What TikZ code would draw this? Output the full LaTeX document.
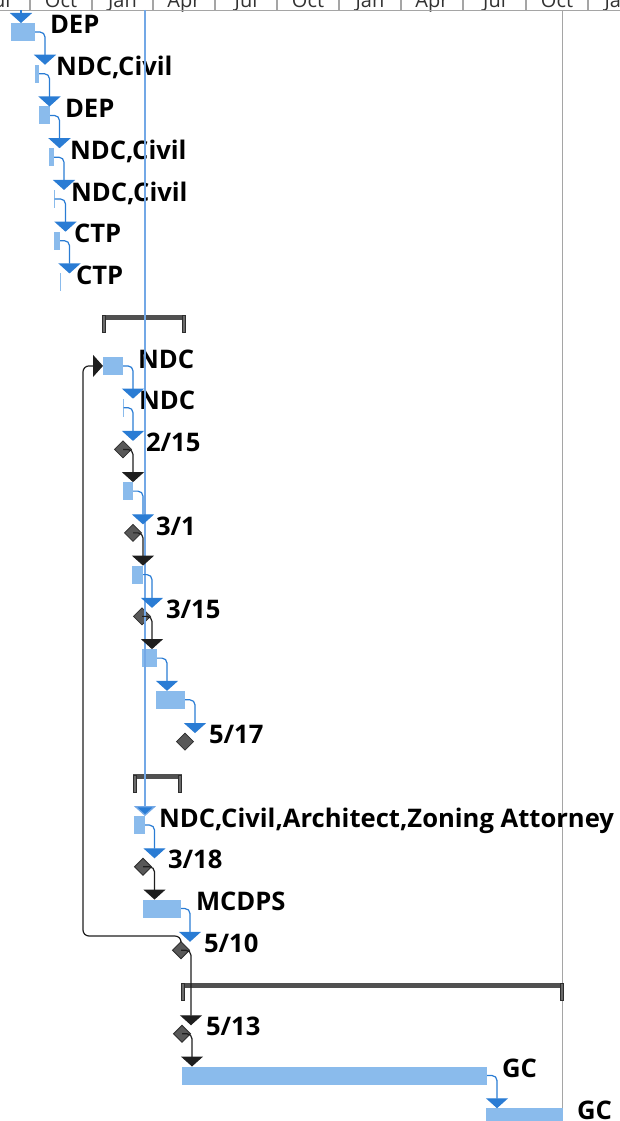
\documentclass[tikz,border=0pt]{standalone}
\usepackage{fontspec}
\setmainfont{Open Sans}
\usetikzlibrary{arrows.meta,shapes.geometric}
\definecolor{barfill}{RGB}{138,187,236}
\definecolor{lnk}{RGB}{42,124,212}
\definecolor{vline}{RGB}{115,168,230}
\definecolor{msfill}{RGB}{88,88,88}
\definecolor{msdraw}{RGB}{45,45,45}
\definecolor{sumc}{RGB}{80,80,80}
\definecolor{gridc}{RGB}{165,165,165}
\definecolor{klnk}{RGB}{30,30,30}
\definecolor{hdrtxt}{RGB}{50,50,50}
\newcommand\tbar[4]{\node[bar, minimum width={(#3-(#2))*1pt}, minimum height=18pt] (#1) at ({(#2+#3)/2},#4) {};}
\newcommand\thinbar[3]{\node[bar, minimum width=1.6pt, minimum height=18pt] (#1) at (#2,#3) {};}
\newcommand\msdia[3]{\node[ms] (#1) at (#2,#3) {};}
\newcommand\sumbar[4]{%
  \node[sumb, minimum width={(#3-(#2))*1pt}, minimum height=5pt] (#1) at ({(#2+#3)/2},{#4-6.5}) {};
  \node[sumcap] (#1l) at ({#2+2},#4) {};
  \node[sumcap] (#1r) at ({#3-2},#4) {};}
\begin{document}
\begin{tikzpicture}[x=1pt,y=-1pt,
  bar/.style={rectangle, fill=barfill, draw=none, inner sep=0pt, outer sep=0pt},
  ms/.style={diamond, fill=msfill, draw=msdraw, line width=0.8pt, minimum size=17pt, inner sep=0pt, outer sep=0pt},
  sumb/.style={rectangle, fill=sumc, inner sep=0pt, outer sep=0pt},
  sumcap/.style={rectangle, fill=sumc!85, draw=msdraw, line width=0.6pt, minimum width=3.5pt, minimum height=17pt, inner sep=0pt, outer sep=0pt},
  lbl/.style={anchor=base west, inner sep=0pt, outer sep=0pt, font=\fontsize{25.6}{26}\selectfont\bfseries},
  hdr/.style={anchor=base, inner sep=0pt, text=hdrtxt, font=\fontsize{20}{20}\selectfont},
  blink/.style={draw=lnk, line width=1.2pt, rounded corners=5pt, -{Triangle[width=22pt,length=10pt]}},
  klink/.style={draw=klnk, line width=1.2pt, rounded corners=5pt, -{Triangle[width=22pt,length=10pt]}},
]
\path[use as bounding box] (0,0) rectangle (620,1121);
\clip (0,0) rectangle (620,1121);
% header
\foreach \x in {30,92,153,215,277,339,401,463,526,588}
  \draw[gridc, line width=1.2pt] (\x,0) -- (\x,10);
\foreach \c/\t in {-1/Jul,61/Oct,122.5/Jan,184/Apr,246/Jul,308/Oct,370/Jan,432/Apr,494.5/Jul,557/Oct,619/Jan}
  \node[hdr] at (\c,7.5) {\t};
\coordinate (hl) at (0,10.5);
\coordinate (hr) at (620,10.5);
\draw[gridc, line width=1.5pt] (hl) -- (hr);
% finish line
\coordinate (ft) at (562,10);
\coordinate (fb) at (562,1121);
\draw[gridc, line width=1pt] (ft) -- (fb);

% rows
\tbar{b1}{11}{35}{32}
\tbar{b2}{35}{39}{73.74}
\tbar{b3}{39}{50}{115.48}
\tbar{b4}{49}{54}{157.22}
\thinbar{b5}{54.5}{198.96}
\tbar{b6}{54}{60}{240.7}
\thinbar{b7}{60.5}{282.44}
\sumbar{s8}{102}{186}{324.18}
\tbar{b9}{103}{123}{365.92}
\thinbar{b10}{123.5}{407.66}
\msdia{d11}{123}{449.4}
\tbar{b12}{123}{133}{491.14}
\msdia{d13}{133}{532.88}
\tbar{b14}{132}{143}{574.62}
\msdia{d15}{142}{616.36}
\tbar{b16}{142}{157}{658.1}
\tbar{b17}{156}{185}{699.84}
\msdia{d18}{185}{741.58}
\sumbar{s19}{133}{182}{783.32}
\tbar{b20}{134}{145}{825.06}
\msdia{d21}{143}{866.8}
\tbar{b22}{143}{181}{908.54}
\msdia{d23}{181}{950.28}
\sumbar{s24}{181}{564}{992.02}
\msdia{d25}{182}{1033.76}
\tbar{b26}{182}{487}{1075.5}
\tbar{b27}{486}{563}{1117.24}

% labels
\node[lbl] (l1) at (50,34) {DEP};
\node[lbl] (l2) at (56,75.9) {NDC,Civil};
\node[lbl] (l3) at (65,117.6) {DEP};
\node[lbl] (l4) at (70,159.4) {NDC,Civil};
\node[lbl] (l5) at (71,201.1) {NDC,Civil};
\node[lbl] (l6) at (74,242.8) {CTP};
\node[lbl] (l7) at (76,284.6) {CTP};
\node[lbl] (l9) at (138,368) {NDC};
\node[lbl] (l10) at (139,409.8) {NDC};
\node[lbl] (l11) at (146,451.5) {2/15};
\node[lbl] (l13) at (156,535) {3/1};
\node[lbl] (l15) at (166,618.5) {3/15};
\node[lbl] (l18) at (209,743.7) {5/17};
\node[lbl] (l20) at (159,827.2) {NDC,Civil,Architect,Zoning Attorney};
\node[lbl] (l21) at (168,868.9) {3/18};
\node[lbl] (l22) at (196,910.7) {MCDPS};
\node[lbl] (l23) at (204,952.4) {5/10};
\node[lbl] (l25) at (206,1035.9) {5/13};
\node[lbl] (l26) at (502,1077.6) {GC};
\node[lbl] (l27) at (577,1119.4) {GC};

% connectors
\coordinate (top1) at (21,10);
\coordinate (top20) at (145,10);
\draw[blink] (top1) -- (21,0 |- b1.north);
\draw[draw=vline, line width=1.3pt, -{Triangle[width=22pt,length=10pt,fill=lnk]}] (top20) -- (145,0 |- b20.north);
\draw[blink] (b1.east) -| (45,0 |- b2.north);
\draw[blink] (b2.east) -| (49.5,0 |- b3.north);
\draw[blink] (b3.east) -| (59.5,0 |- b4.north);
\draw[blink] (b4.east) -| (64,0 |- b5.north);
\draw[blink] (b5.center) -| (65.5,0 |- b6.north);
\draw[blink] (b6.east) -| (69.5,0 |- b7.north);
\draw[blink] (b9.east) -| (133,0 |- b10.north);
\draw[blink] (b10.center) -| (133,0 |- d11.north);
\draw[klink] (d11.center) -| (133,0 |- b12.north);
\draw[blink] (b12.east) -| (143,0 |- d13.north);
\draw[klink] (d13.center) -| (143,0 |- b14.north);
\draw[blink] (b14.east) -| (152,0 |- d15.north);
\draw[klink] (d15.center) -| (152,0 |- b16.north);
\draw[blink] (b16.east) -| (167,0 |- b17.north);
\draw[blink] (b17.east) -| (195,0 |- d18.north);
\draw[blink] (b20.east) -| (154.5,0 |- d21.north);
\draw[klink] (d21.center) -| (154.5,0 |- b22.north);
\draw[blink] (b22.east) -| (190,0 |- d23.north);
\draw[klink] (d23.center) -| (191,0 |- d25.north);
\draw[klink] (d25.center) -| (192,0 |- b26.north);
\draw[blink] (b26.east) -| (497,0 |- b27.north);
\draw[klink, rounded corners=6pt] (d23.north) |- (83,936) |- (b9.west);
\end{tikzpicture}
\end{document}
